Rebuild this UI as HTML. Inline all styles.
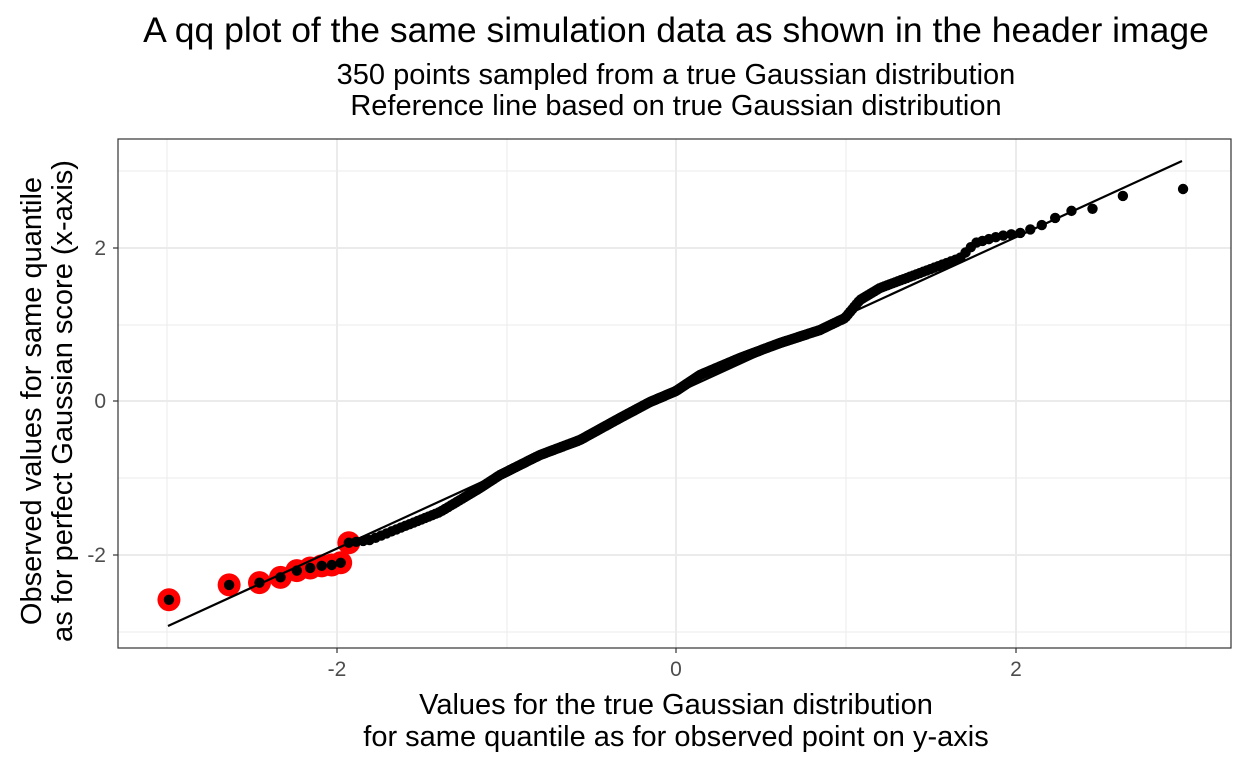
<!DOCTYPE html>
<html><head><meta charset="utf-8"><style>
html,body{margin:0;padding:0;background:#fff;}
svg{display:block;font-family:"Liberation Sans",sans-serif;}
</style></head><body>
<svg id="s" width="1248" height="768" xmlns="http://www.w3.org/2000/svg">
<rect width="1248" height="768" fill="#fff"/>
<g stroke="#ebebeb" stroke-width="1">
<line x1="118" x2="1231" y1="171" y2="171"/><line x1="118" x2="1231" y1="325" y2="325"/>
<line x1="118" x2="1231" y1="478" y2="478"/><line x1="118" x2="1231" y1="632" y2="632"/>
<line y1="139" y2="648" x1="167" x2="167"/><line y1="139" y2="648" x1="507" x2="507"/>
<line y1="139" y2="648" x1="846" x2="846"/><line y1="139" y2="648" x1="1186" x2="1186"/>
</g>
<g stroke="#ebebeb" stroke-width="2">
<line x1="118" x2="1231" y1="248" y2="248"/><line x1="118" x2="1231" y1="401" y2="401"/>
<line x1="118" x2="1231" y1="555" y2="555"/>
<line y1="139" y2="648" x1="337" x2="337"/><line y1="139" y2="648" x1="676" x2="676"/>
<line y1="139" y2="648" x1="1016" x2="1016"/>
</g>
<g id="red" fill="#ff0000"></g>
<line x1="168" y1="626" x2="1182" y2="161" stroke="#000" stroke-width="2.2"/>
<g id="blk" fill="#000"></g>
<rect x="118" y="139" width="1113" height="509" fill="none" stroke="#333" stroke-width="1.2"/>
<g stroke="#333" stroke-width="1.2">
<line x1="113" x2="118" y1="248" y2="248"/><line x1="113" x2="118" y1="401" y2="401"/><line x1="113" x2="118" y1="555" y2="555"/>
<line y1="648" y2="653" x1="337" x2="337"/><line y1="648" y2="653" x1="676" x2="676"/><line y1="648" y2="653" x1="1016" x2="1016"/>
</g>
<g fill="#4d4d4d" font-size="21">
<text x="106" y="255" text-anchor="end">2</text>
<text x="106" y="408" text-anchor="end">0</text>
<text x="106" y="562" text-anchor="end">-2</text>
<text x="337" y="676" text-anchor="middle">-2</text>
<text x="676" y="676" text-anchor="middle">0</text>
<text x="1016" y="676" text-anchor="middle">2</text>
</g>
<g fill="#000" text-anchor="middle">
<text x="676" y="42" font-size="35.5">A qq plot of the same simulation data as shown in the header image</text>
<text x="676" y="84" font-size="29">350 points sampled from a true Gaussian distribution</text>
<text x="676" y="115" font-size="29">Reference line based on true Gaussian distribution</text>
<text x="676" y="714" font-size="29">Values for the true Gaussian distribution</text>
<text x="676" y="746" font-size="29">for same quantile as for observed point on y-axis</text>
<text transform="translate(41,401) rotate(-90)" font-size="29">Observed values for same quantile</text>
<text transform="translate(72,401) rotate(-90)" font-size="29">as for perfect Gaussian score (x-axis)</text>
</g>
</svg>
<script>
function ninv(p){var a=[-39.69683028665376,220.9460984245205,-275.9285104469687,138.3577518672690,-30.66479806614716,2.506628277459239],b=[-54.47609879822406,161.5858368580409,-155.6989798598866,66.80131188771972,-13.28068155288572],c=[-7.784894002430293e-03,-0.3223964580411365,-2.400758277161838,-2.549732539343734,4.374664141464968,2.938163982698783],d=[7.784695709041462e-03,0.3224671290700398,2.445134137142996,3.754408661907416],pl=0.02425,q,r;
if(p<pl){q=Math.sqrt(-2*Math.log(p));return(((((c[0]*q+c[1])*q+c[2])*q+c[3])*q+c[4])*q+c[5])/((((d[0]*q+d[1])*q+d[2])*q+d[3])*q+1);}
if(p>1-pl){q=Math.sqrt(-2*Math.log(1-p));return-(((((c[0]*q+c[1])*q+c[2])*q+c[3])*q+c[4])*q+c[5])/((((d[0]*q+d[1])*q+d[2])*q+d[3])*q+1);}
q=p-0.5;r=q*q;return(((((a[0]*r+a[1])*r+a[2])*r+a[3])*r+a[4])*r+a[5])*q/(((((b[0]*r+b[1])*r+b[2])*r+b[3])*r+b[4])*r+1);}
var A=[[168,600],[228,585],[258,583],[279,578],[295,571],[310,568],[320,566],[330,565],[340,565],[347,543],[370,540],[400,528],[440,512],[480,488],[500,475],[540,455],[580,440],[620,418],[650,402],[676,391],[700,375],[740,358],[780,343],[820,330],[845,318],[860,300],[880,288],[920,273],[960,258],[975,243],[1000,236],[1020,233],[1040,226],[1055,218],[1070,211],[1092,209],[1122,196],[1182,189]];
function fy(x){if(x<=A[0][0])return A[0][1];for(var i=1;i<A.length;i++){if(x<=A[i][0]){var t=(x-A[i-1][0])/(A[i][0]-A[i-1][0]);return A[i-1][1]+t*(A[i][1]-A[i-1][1]);}}return A[A.length-1][1];}
var ns="http://www.w3.org/2000/svg",red=document.getElementById("red"),blk=document.getElementById("blk");
for(var i=1;i<=350;i++){var z=ninv((i-0.5)/350),x=676+170*z,y=fy(x);
if(x<350){var c=document.createElementNS(ns,"circle");c.setAttribute("cx",x);c.setAttribute("cy",y);c.setAttribute("r",11.5);red.appendChild(c);}
var k=document.createElementNS(ns,"circle");k.setAttribute("cx",x);k.setAttribute("cy",y);k.setAttribute("r",5.2);blk.appendChild(k);}
</script>
</body></html>
